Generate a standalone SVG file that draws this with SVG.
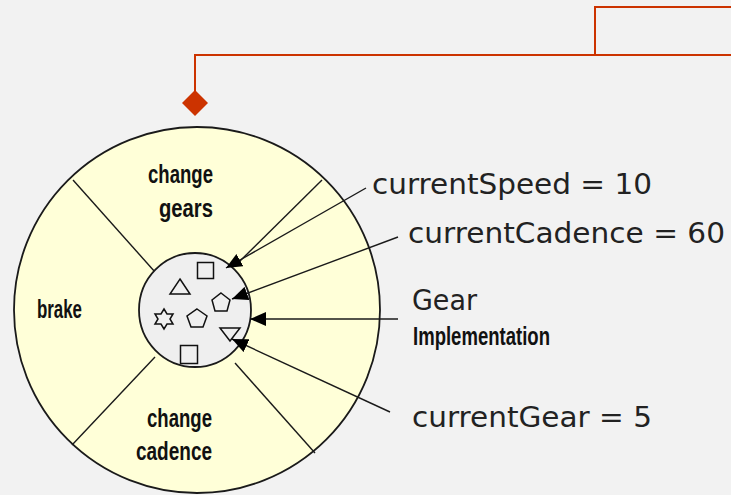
<svg xmlns="http://www.w3.org/2000/svg" width="731" height="495" viewBox="0 0 731 495">
<style>
.bg{fill:#f2f2f2}
.outer{fill:#ffffd8;stroke:#1a1a1a;stroke-width:1.8}
.inner{fill:#efefef;stroke:#1a1a1a;stroke-width:1.8}
.ln{stroke:#1a1a1a;stroke-width:1.4;fill:none}
.shp{fill:none;stroke:#111;stroke-width:1.5}
.lbl{font-family:"Liberation Sans",Arial,sans-serif;font-size:25px;font-weight:bold;fill:#111}
.att{font-family:"DejaVu Sans","Liberation Sans",sans-serif;font-size:28px;fill:#222}
.red{stroke:#cc3300;stroke-width:2;fill:none}
</style>
<defs>
<marker id="ah" viewBox="0 0 16 14" refX="16" refY="7" markerWidth="16" markerHeight="14" markerUnits="userSpaceOnUse" orient="auto">
<path d="M0,0 L16,7 L0,14 Z" fill="#000"/>
</marker>
</defs>
<rect class="bg" x="0" y="0" width="731" height="495"/>

<g id="bicycle">
<circle class="outer" cx="197" cy="310" r="183"/>
<line class="ln" x1="73" y1="180" x2="155" y2="272"/>
<line class="ln" x1="322" y1="180" x2="238" y2="263"/>
<line class="ln" x1="155" y1="357" x2="72" y2="445"/>
<line class="ln" x1="235" y1="363" x2="315" y2="453"/>
<ellipse class="inner" cx="195" cy="310" rx="56" ry="57"/>
<rect class="shp" x="197.5" y="262.5" width="16" height="16"/>
<polygon class="shp" points="180,279 190,294 170,294"/>
<polygon class="shp" points="221,293 230,300 227,311 215,311 212,300"/>
<polygon class="shp" points="164,309 167,314 173,314 170,319 173,324 167,324 164,329 161,324 155,324 158,319 155,314 161,314"/>
<polygon class="shp" points="197,309 207,316 203,327 191,327 187,316"/>
<polygon class="shp" points="220,328 240,328 230,341"/>
<rect class="shp" x="180.5" y="345.5" width="17" height="18"/>
<text class="lbl" x="148" y="183" textLength="65" lengthAdjust="spacingAndGlyphs">change</text>
<text class="lbl" x="159" y="217" textLength="54" lengthAdjust="spacingAndGlyphs">gears</text>
<text class="lbl" x="37" y="318" textLength="45" lengthAdjust="spacingAndGlyphs">brake</text>
<text class="lbl" x="147" y="427" textLength="65" lengthAdjust="spacingAndGlyphs">change</text>
<text class="lbl" x="136" y="460" textLength="76" lengthAdjust="spacingAndGlyphs">cadence</text>
</g>

<g id="labels">
<text class="att" x="372" y="194" textLength="280" lengthAdjust="spacingAndGlyphs">currentSpeed = 10</text>
<text class="att" x="408" y="243" textLength="317" lengthAdjust="spacingAndGlyphs">currentCadence = 60</text>
<text class="att" x="412" y="310" textLength="65" lengthAdjust="spacingAndGlyphs">Gear</text>
<text class="lbl" x="413" y="345" textLength="137" lengthAdjust="spacingAndGlyphs">Implementation</text>
<text class="att" x="412" y="427" textLength="240" lengthAdjust="spacingAndGlyphs">currentGear = 5</text>
</g>

<g id="connectors">
<line class="ln" x1="366" y1="188" x2="226" y2="268" marker-end="url(#ah)"/>
<line class="ln" x1="398" y1="237" x2="232" y2="299" marker-end="url(#ah)"/>
<line class="ln" x1="398" y1="319" x2="250" y2="319" marker-end="url(#ah)"/>
<line class="ln" x1="390" y1="412" x2="232" y2="339" marker-end="url(#ah)"/>
<path class="red" d="M731,7 H595 V55"/>
<path class="red" d="M731,55 H195 V92"/>
<polygon points="195,90 208,103 195,116 182,103" fill="#cc3300"/>
</g>
</svg>
